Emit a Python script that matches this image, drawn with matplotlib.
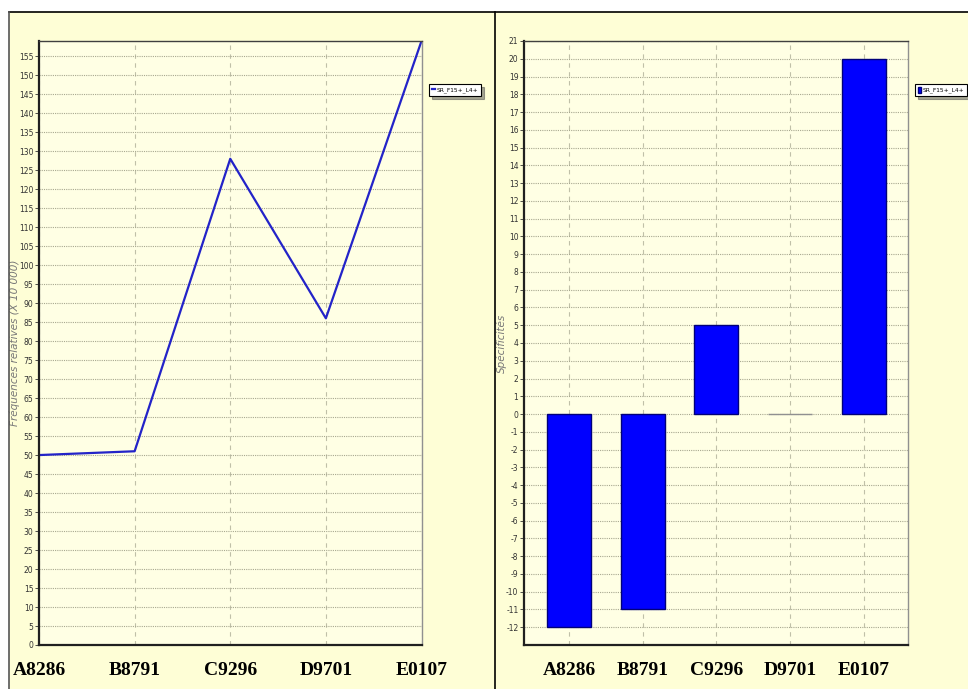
import numpy as np
import matplotlib
matplotlib.use('Agg')
import matplotlib.pyplot as plt
from matplotlib.lines import Line2D
from matplotlib.patches import Rectangle

plt.rcParams['axes.unicode_minus'] = False

# data
periods = ['A8286', 'B8791', 'C9296', 'D9701', 'E0107']
freq_rel = [50, 51, 128, 86, 159]          # relative frequencies (x 10 000)
specif = [-12, -11, 5, 0, 20]               # specificities
serie = 'SR_F15+_L4+'

bg = '#FEFED6'
axbg = '#FFFFE4'
grid_c = '#A8A890'

fig = plt.figure(figsize=(9.68, 6.89), dpi=100, facecolor='white')

# yellow panel background and frame lines
fig.add_artist(Rectangle((9/968, 0), 1 - 9/968, 1 - 12/689, transform=fig.transFigure,
                         facecolor=bg, edgecolor='none', zorder=-10))
fig.add_artist(Line2D([9/968, 1], [1 - 12/689, 1 - 12/689], transform=fig.transFigure, color='black', lw=1.2))
fig.add_artist(Line2D([9/968, 9/968], [0, 1 - 12/689], transform=fig.transFigure, color='#555555', lw=1.2))
fig.add_artist(Line2D([495/968, 495/968], [0, 1 - 12/689], transform=fig.transFigure, color='black', lw=1.2))

bottom = 1 - 645/689
height = (645 - 41)/689


def style_axes(ax):
    ax.set_facecolor(axbg)
    ax.spines['left'].set_color('#202020')
    ax.spines['bottom'].set_color('#202020')
    ax.spines['left'].set_linewidth(1.6)
    ax.spines['bottom'].set_linewidth(1.6)
    ax.spines['top'].set_color('#404040')
    ax.spines['right'].set_color('#909090')
    ax.spines['top'].set_linewidth(1.0)
    ax.spines['right'].set_linewidth(1.0)
    ax.yaxis.grid(True, linestyle=(0, (1, 1)), color=grid_c, lw=0.8)
    ax.xaxis.grid(True, linestyle=(0, (4, 4)), color='#C0C0A8', lw=0.8)
    ax.set_axisbelow(True)
    ax.tick_params(axis='y', labelsize=5.5, colors='#333333', length=3, width=0.6, pad=1)
    ax.tick_params(axis='x', length=0, pad=12)
    for lab in ax.get_xticklabels():
        lab.set_fontfamily('Liberation Serif')
        lab.set_fontweight('bold')
        lab.set_fontsize(14)
        lab.set_color('black')


def style_legend(leg):
    leg.get_frame().set_edgecolor('black')
    leg.get_frame().set_facecolor('white')
    leg.get_frame().set_linewidth(0.8)


# ---- left: relative frequencies line ----
ax1 = fig.add_axes([39/968, bottom, (421.5 - 39)/968, height])
x = np.arange(len(periods))
ax1.plot(x, freq_rel, color='#2323C8', lw=1.6)
ax1.set_xlim(0, len(periods) - 1)
ax1.set_ylim(0, 159)
ax1.set_yticks(np.arange(0, 156, 5))
ax1.set_xticks(x)
ax1.set_xticklabels(periods)
style_axes(ax1)
ax1.set_ylabel('Fréquences relatives (X 10 000)', fontsize=7.5, style='italic', color='#777777')
ax1.yaxis.set_label_coords(-0.05, 0.5)
leg1 = ax1.legend([serie], loc='center', bbox_to_anchor=(455/968, 1 - 90/689),
                  bbox_transform=fig.transFigure, fontsize=4.2, frameon=True, fancybox=False,
                  shadow=True, handlelength=0.6, handletextpad=0.2, borderpad=0.5)
style_legend(leg1)

# ---- right: specificities bars ----
ax2 = fig.add_axes([524/968, bottom, 384/968, height])
edges = ['#909090' if v == 0 else '#00007A' for v in specif]
ax2.bar(x, specif, width=0.6, color='#0000FF', edgecolor=edges, lw=1.0, label=serie)
ax2.set_xlim(-0.61, len(periods) - 0.4)
ax2.set_ylim(-13, 21)
ax2.set_yticks(np.arange(-12, 22, 1))
ax2.set_xticks(x)
ax2.set_xticklabels(periods)
style_axes(ax2)
ax2.set_ylabel('Spécificités', fontsize=7.5, style='italic', color='#777777')
ax2.yaxis.set_label_coords(-0.045, 0.5)
leg2 = ax2.legend(loc='center', bbox_to_anchor=(941/968, 1 - 90/689),
                  bbox_transform=fig.transFigure, fontsize=4.2, frameon=True, fancybox=False,
                  shadow=True, handlelength=0.6, handleheight=1.3, handletextpad=0.2, borderpad=0.5)
style_legend(leg2)

fig.savefig('out.png', dpi=100, facecolor=fig.get_facecolor())
